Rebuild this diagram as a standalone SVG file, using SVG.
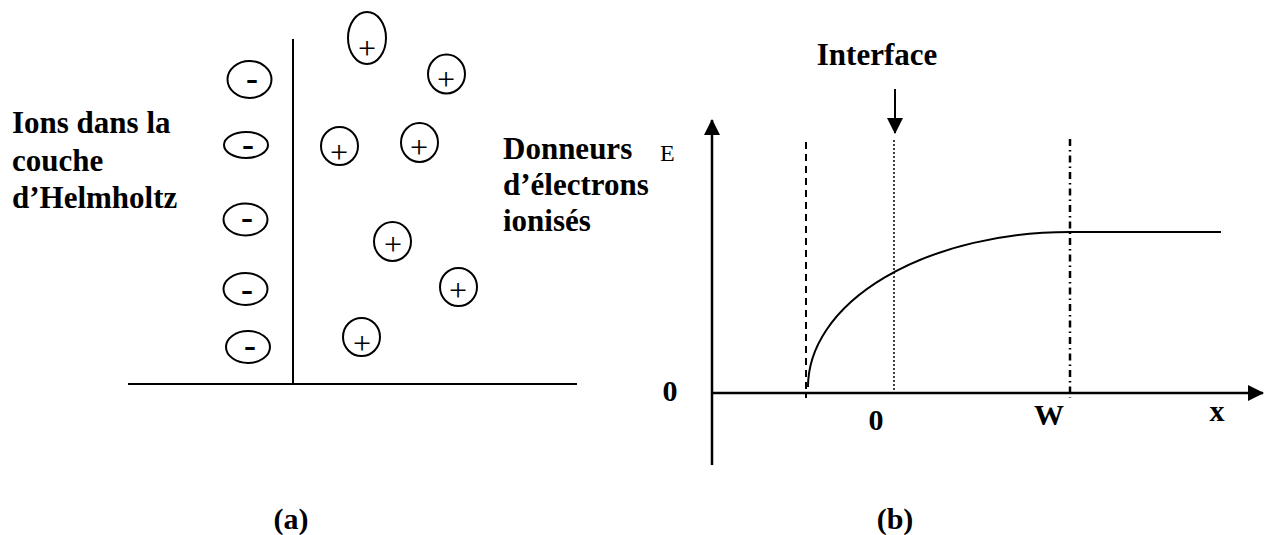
<svg xmlns="http://www.w3.org/2000/svg" width="1268" height="535" viewBox="0 0 1268 535">
<style>
.bt{font-family:"Liberation Serif","Times New Roman",serif;font-weight:bold;font-size:31px;fill:#000}
.lb{font-family:"Liberation Serif","Times New Roman",serif;font-weight:bold;font-size:30px;fill:#000;text-anchor:middle}
.ion{fill:none;stroke:#000;stroke-width:2}
.pl{font-family:"Liberation Serif","Times New Roman",serif;font-size:32px;fill:#000;text-anchor:middle}
.mn{font-family:"Liberation Serif","Times New Roman",serif;font-weight:bold;font-size:36px;fill:#000;text-anchor:middle}
.ln{fill:none;stroke:#000;stroke-width:2}
.ax{fill:none;stroke:#000;stroke-width:2.5}
</style>
<defs>
<marker id="ah" viewBox="0 0 16 16" refX="15" refY="8" markerWidth="16" markerHeight="16" markerUnits="userSpaceOnUse" orient="auto">
<path d="M0,0 L16,8 L0,16 Z" fill="#000"/>
</marker>
</defs>

<g id="panel-a-axes">
<line class="ln" x1="293" y1="39" x2="293" y2="384"/>
<line class="ln" x1="128" y1="384" x2="577" y2="384"/>
</g>

<g id="neg-ion-1"><ellipse class="ion" cx="249.5" cy="79.5" rx="22" ry="18.5"/><text class="mn" x="252" y="90">-</text></g>
<g id="neg-ion-2"><ellipse class="ion" cx="246" cy="145" rx="22" ry="13"/><text class="mn" x="248" y="156">-</text></g>
<g id="neg-ion-3"><ellipse class="ion" cx="245.5" cy="219.5" rx="22" ry="16"/><text class="mn" x="247" y="229">-</text></g>
<g id="neg-ion-4"><ellipse class="ion" cx="245.5" cy="289" rx="22" ry="16"/><text class="mn" x="247" y="301">-</text></g>
<g id="neg-ion-5"><ellipse class="ion" cx="248" cy="347" rx="22" ry="16"/><text class="mn" x="250" y="357">-</text></g>

<g id="pos-ion-1"><ellipse class="ion" cx="367" cy="38" rx="19" ry="26"/><text class="pl" x="367" y="59">+</text></g>
<g id="pos-ion-2"><ellipse class="ion" cx="446.5" cy="74" rx="18.5" ry="19.5"/><text class="pl" x="446" y="90">+</text></g>
<g id="pos-ion-3"><ellipse class="ion" cx="339.5" cy="146" rx="18.5" ry="19"/><text class="pl" x="339" y="163">+</text></g>
<g id="pos-ion-4"><ellipse class="ion" cx="419.5" cy="142.5" rx="18.5" ry="19.5"/><text class="pl" x="419" y="158">+</text></g>
<g id="pos-ion-5"><ellipse class="ion" cx="392.5" cy="241.5" rx="18.5" ry="19.5"/><text class="pl" x="393" y="255">+</text></g>
<g id="pos-ion-6"><ellipse class="ion" cx="458.5" cy="287" rx="18.5" ry="19"/><text class="pl" x="458" y="301">+</text></g>
<g id="pos-ion-7"><ellipse class="ion" cx="361.5" cy="337" rx="18.5" ry="19"/><text class="pl" x="362" y="354">+</text></g>

<g id="label-ions">
<text class="bt" x="12" y="133">Ions dans la</text>
<text class="bt" x="12" y="171">couche</text>
<text class="bt" x="12" y="208">d’Helmholtz</text>
</g>
<g id="label-donneurs">
<text class="bt" x="503" y="159">Donneurs</text>
<text class="bt" x="503" y="195">d’électrons</text>
<text class="bt" x="503" y="231">ionisés</text>
</g>
<text id="label-E" x="660" y="161" font-family="Liberation Serif, Times New Roman, serif" font-size="24" fill="#000">E</text>

<g id="connectors">
<line class="ax" x1="712" y1="465" x2="712" y2="120" marker-end="url(#ah)"/>
<line class="ax" x1="712" y1="393" x2="1263" y2="393" marker-end="url(#ah)"/>
<line class="ln" x1="895" y1="89" x2="895" y2="133" marker-end="url(#ah)"/>
</g>

<g id="guides">
<line x1="806" y1="142" x2="806" y2="398" stroke="#000" stroke-width="2" stroke-dasharray="7,5"/>
<line x1="894" y1="140" x2="894" y2="393" stroke="#000" stroke-width="1.5" stroke-dasharray="2,2"/>
<line x1="1070" y1="139" x2="1070" y2="398" stroke="#000" stroke-width="2.5" stroke-dasharray="7,4,1.5,4"/>
</g>

<g id="curve">
<path class="ln" d="M808,387 A262,155 0 0 1 1070,232 L1221,232"/>
</g>

<g id="labels-b">
<text class="bt" x="877" y="65" text-anchor="middle">Interface</text>
<text class="lb" x="670" y="401">0</text>
<text class="lb" x="876" y="430">0</text>
<text class="lb" x="1049" y="425">W</text>
<text class="lb" x="1217" y="421">x</text>
</g>

<g id="captions">
<text class="lb" x="291" y="529">(a)</text>
<text class="lb" x="895" y="529">(b)</text>
</g>
</svg>
